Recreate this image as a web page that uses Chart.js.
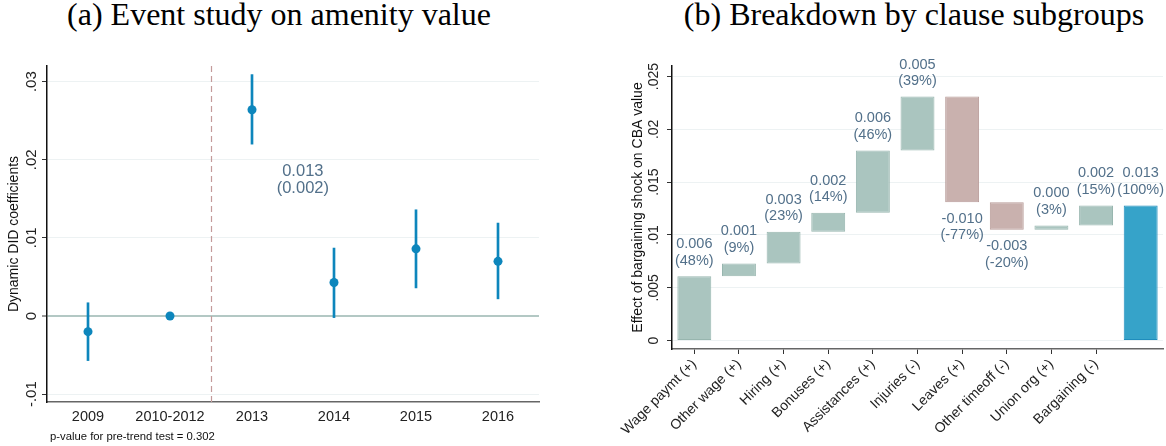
<!DOCTYPE html>
<html><head><meta charset="utf-8">
<script src="https://cdn.jsdelivr.net/npm/chart.js@4"></script>
<style>
html,body{margin:0;padding:0;background:#fff;width:1166px;height:446px;overflow:hidden;position:relative}
canvas{position:absolute;top:0}
#ca{left:0}
#cb{left:583px}
.ttl{position:absolute;top:-2px;line-height:32px;font-family:"Liberation Serif","Times New Roman",serif;font-size:32px;white-space:nowrap;transform:translateX(-50%);color:#000}
#note{position:absolute;left:50px;top:430px;line-height:13px;font-family:"Liberation Sans",Arial,sans-serif;font-size:11.3px;color:#111;white-space:nowrap}
</style></head><body>
<div class="ttl" style="left:279px">(a) Event study on amenity value</div>
<div class="ttl" style="left:914px">(b) Breakdown by clause subgroups</div>
<canvas id="ca" width="583" height="446"></canvas>
<canvas id="cb" width="583" height="446"></canvas>
<div id="note">p-value for pre-trend test = 0.302</div>
<script>
// ---------- Panel (a) data ----------
const periods = ['2009', '2010-2012', '2013', '2014', '2015', '2016'];
const coef    = [-0.0020, 0.0000, 0.0264, 0.0043, 0.0086, 0.0070];
const ciLow   = [-0.0057, null, 0.0220, -0.0002, 0.0036, 0.0022];
const ciHigh  = [0.0017, null, 0.0309, 0.0087, 0.0136, 0.0119];
const yTicksA = [-0.01, 0, 0.01, 0.02, 0.03];
const yTickLabelsA = ['-.01', '0', '.01', '.02', '.03'];
const pooledEstimate = ['0.013', '(0.002)'];

// ---------- Panel (b) data ----------
const clauses = ['Wage paymt (+)', 'Other wage (+)', 'Hiring (+)', 'Bonuses (+)', 'Assistances (+)',
                 'Injuries (-)', 'Leaves (+)', 'Other timeoff (-)', 'Union org (+)', 'Bargaining (-)', ''];
const effects = [0.0061, 0.0012, 0.0030, 0.0018, 0.0059, 0.0051, -0.0100, -0.0026, 0.0004, 0.0019];
const totalEffect = 0.0128;
const valueLabels = ['0.006', '0.001', '0.003', '0.002', '0.006', '0.005', '-0.010', '-0.003', '0.000', '0.002', '0.013'];
const shareLabels = ['(48%)', '(9%)', '(23%)', '(14%)', '(46%)', '(39%)', '(-77%)', '(-20%)', '(3%)', '(15%)', '(100%)'];
const yTicksB = [0, 0.005, 0.01, 0.015, 0.02, 0.025];
const yTickLabelsB = ['0', '.005', '.01', '.015', '.02', '.025'];

// ---------- styles ----------
const FONT = '"Liberation Sans", Arial, Helvetica, sans-serif';
Chart.defaults.font.family = FONT;
Chart.defaults.color = '#222';
const BLUE_PT = '#0d86bc';
const GREEN = '#aac5bf', GREEN_B = '#98b6af';
const PINK = '#c9b1ae', PINK_B = '#b89c99';
const TOT = '#36a3c9', TOT_B = '#1f8dbd';
const LABEL_COL = '#52708a';
const GRID = '#edf2f3', ZERO = '#b3c8c4';

function yLabelPlugin(id, values, labels, cx, size) {
  return { id, afterDraw(chart) {
    const s = chart.scales.y, ctx = chart.ctx;
    ctx.save();
    ctx.fillStyle = '#222';
    ctx.font = size + 'px ' + FONT;
    ctx.textAlign = 'center'; ctx.textBaseline = 'middle';
    values.forEach((v, i) => {
      const y = s.getPixelForValue(v);
      ctx.save(); ctx.translate(cx, y); ctx.rotate(-Math.PI / 2);
      ctx.fillText(labels[i], 0, 0); ctx.restore();
    });
    ctx.restore();
  }};
}

// ---------- Panel (a) ----------
const eventPlugin = {
  id: 'eventExtras',
  beforeDatasetsDraw(chart) {
    const xs = chart.scales.x, ca = chart.chartArea, ctx = chart.ctx;
    const x = (xs.getPixelForValue(1) + xs.getPixelForValue(2)) / 2;
    ctx.save();
    ctx.strokeStyle = '#c49b9b'; ctx.lineWidth = 1.2; ctx.setLineDash([6, 4]);
    ctx.beginPath(); ctx.moveTo(Math.round(x) + 0.5, ca.top); ctx.lineTo(Math.round(x) + 0.5, ca.bottom); ctx.stroke();
    ctx.restore();
  },
  afterDatasetsDraw(chart) {
    const xs = chart.scales.x, ys = chart.scales.y, ctx = chart.ctx;
    const x = xs.getPixelForValue(2.62);
    const y = ys.getPixelForValue(0.0185);
    ctx.save();
    ctx.fillStyle = LABEL_COL; ctx.font = '16.5px ' + FONT;
    ctx.textAlign = 'center'; ctx.textBaseline = 'middle';
    ctx.fillText(pooledEstimate[0], x, y);
    ctx.fillText(pooledEstimate[1], x, y + 17);
    ctx.restore();
  }
};

new Chart(document.getElementById('ca'), {
  type: 'bar',
  data: {
    labels: periods,
    datasets: [
      { type: 'line', data: coef, showLine: false, pointRadius: 4.5, pointHoverRadius: 4.5,
        pointBackgroundColor: BLUE_PT, pointBorderWidth: 0, order: 1 },
      { type: 'bar', data: periods.map((p, i) => ciLow[i] === null ? null : [ciLow[i], ciHigh[i]]),
        backgroundColor: BLUE_PT, borderWidth: 0, barThickness: 2, order: 2 }
    ]
  },
  options: {
    responsive: false, animation: false,
    layout: { padding: { top: 66, left: 0, right: 44, bottom: 0 } },
    plugins: { legend: { display: false }, tooltip: { enabled: false } },
    scales: {
      x: {
        type: 'category', offset: true,
        grid: { display: false, drawTicks: false, offset: false },
        border: { display: true, color: '#666', width: 1.5 },
        ticks: { padding: 6, color: '#222', font: { size: 14.5 }, maxRotation: 0, autoSkip: false },
        afterFit(s) { s.height = 44; s.paddingLeft = 0; s.paddingRight = 0; }
      },
      y: {
        min: -0.011, max: 0.032,
        afterBuildTicks(s) { s.ticks = yTicksA.map(v => ({ value: v })); },
        ticks: { display: false },
        grid: {
          color: c => (c.tick && c.tick.value === 0) ? ZERO : GRID,
          lineWidth: c => (c.tick && c.tick.value === 0) ? 2 : 1,
          drawTicks: true, tickLength: 5, tickColor: '#333', tickWidth: 1
        },
        border: { display: true, color: '#111', width: 1.5 },
        title: { display: true, text: 'Dynamic DID coefficients', color: '#111', font: { size: 14 }, padding: { top: 5.5, bottom: 0 } },
        afterFit(s) { s.width = 47; s.paddingTop = 0; s.paddingBottom = 0; }
      }
    }
  },
  plugins: [eventPlugin, yLabelPlugin('yLabA', yTicksA, yTickLabelsA, 32, 15)]
});

// ---------- Panel (b) ----------
let running = 0;
const ranges = effects.map(e => { const r = [running, running + e]; running += e; return r; });
ranges.push([0, totalEffect]);
const fills = ranges.map((r, i) => i === ranges.length - 1 ? TOT : (effects[i] >= 0 ? GREEN : PINK));
const borders = ranges.map((r, i) => i === ranges.length - 1 ? TOT_B : (effects[i] >= 0 ? GREEN_B : PINK_B));

const barLabelPlugin = {
  id: 'barLabels',
  afterDatasetsDraw(chart) {
    const meta = chart.getDatasetMeta(0), ctx = chart.ctx;
    ctx.save();
    ctx.fillStyle = LABEL_COL; ctx.font = '14.5px ' + FONT;
    ctx.textAlign = 'center'; ctx.textBaseline = 'middle';
    meta.data.forEach((el, i) => {
      const top = Math.min(el.y, el.base), bot = Math.max(el.y, el.base);
      const neg = i < effects.length && effects[i] < 0;
      if (neg) {
        ctx.fillText(valueLabels[i], el.x, bot + 16.5);
        ctx.fillText(shareLabels[i], el.x, bot + 33);
      } else {
        ctx.fillText(valueLabels[i], el.x, top - 32);
        ctx.fillText(shareLabels[i], el.x, top - 15.5);
      }
    });
    ctx.restore();
  }
};

new Chart(document.getElementById('cb'), {
  type: 'bar',
  data: {
    labels: clauses,
    datasets: [{
      data: ranges, backgroundColor: fills, borderColor: borders, borderWidth: 1,
      borderSkipped: false, barPercentage: 0.76, categoryPercentage: 1.0
    }]
  },
  options: {
    responsive: false, animation: false,
    layout: { padding: { top: 66, left: 0, right: 3, bottom: 0 } },
    plugins: { legend: { display: false }, tooltip: { enabled: false } },
    scales: {
      x: {
        type: 'category', offset: true,
        grid: { display: true, drawOnChartArea: false, drawTicks: true, tickLength: 5, offset: false,
                color: 'rgba(0,0,0,0)',
                tickColor: c => c.index === clauses.length - 1 ? 'rgba(0,0,0,0)' : '#333', tickWidth: 1 },
        border: { display: true, color: '#666', width: 1.5 },
        ticks: { padding: 2, color: '#222', font: { size: 14 }, minRotation: 45, maxRotation: 45, autoSkip: false },
        afterFit(s) { s.height = 97; s.paddingLeft = 0; s.paddingRight = 0; }
      },
      y: {
        min: -0.0008, max: 0.026,
        afterBuildTicks(s) { s.ticks = yTicksB.map(v => ({ value: v })); },
        ticks: { display: false },
        grid: { color: GRID, lineWidth: 1, drawTicks: true, tickLength: 5, tickColor: '#333', tickWidth: 1 },
        border: { display: true, color: '#111', width: 1.5 },
        title: { display: true, text: 'Effect of bargaining shock on CBA value', color: '#111', font: { size: 14 }, padding: { top: 46.6, bottom: 0 } },
        afterFit(s) { s.width = 89; s.paddingTop = 0; s.paddingBottom = 0; }
      }
    }
  },
  plugins: [barLabelPlugin, yLabelPlugin('yLabB', yTicksB, yTickLabelsB, 71, 14)]
});
</script>
</body></html>
